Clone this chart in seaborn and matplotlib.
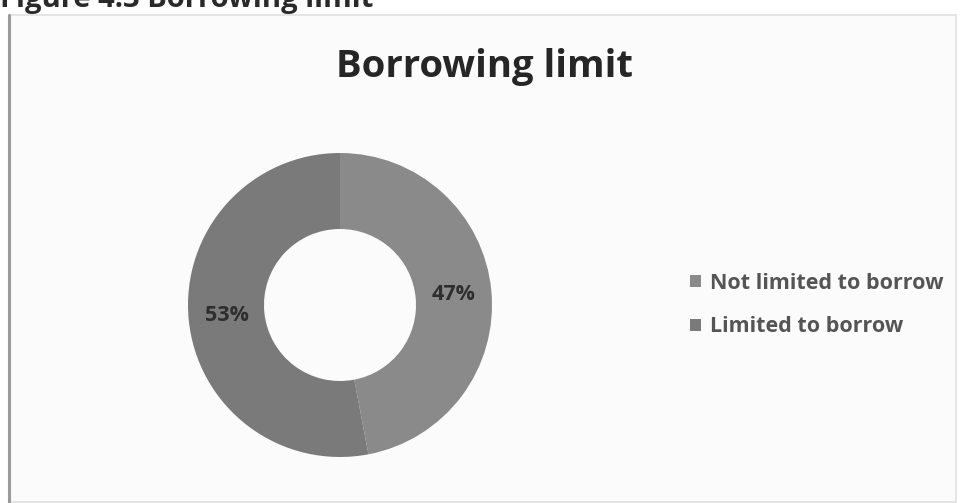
import matplotlib
matplotlib.use("Agg")
import matplotlib.pyplot as plt
from matplotlib.patches import Rectangle
import seaborn as sns

# Survey shares for the borrowing-limit question
categories = ["Not limited to borrow", "Limited to borrow"]
shares = [47, 53]
slice_colors = ["#8a8a8a", "#7a7a7a"]

sns.set_theme(style="white")
plt.rcParams["font.family"] = ["Open Sans", "DejaVu Sans"]

W, H = 961, 503
fig = plt.figure(figsize=(W / 100, H / 100), dpi=100)
fig.patch.set_facecolor("#ffffff")

# Chart frame, kept behind everything else
frame = Rectangle((9 / W, 1 / H), (956 - 9) / W, (488 - 1) / H,
                  transform=fig.transFigure, facecolor="#fbfbfb",
                  edgecolor="#e0e0e0", linewidth=1.2, zorder=-10)
fig.patches.append(frame)
fig.add_artist(plt.Line2D([9 / W, 9 / W], [1 / H, 488 / H],
                          transform=fig.transFigure, color="#9a9a9a", lw=2.2,
                          zorder=-5))

# Caption above the frame (runs off the top edge)
fig.text(0.0, 1 - 7 / H, "Figure 4.3 Borrowing limit", ha="left", va="baseline",
         fontsize=21, fontweight="bold", color="#2a2a2a")

# Title
fig.text(484 / W, 1 - 67 / H, "Borrowing limit", ha="center", va="center",
         fontsize=27.5, fontweight="bold", color="#262626")

# Donut
cx, cy, r = 340, 305, 152
ax = fig.add_axes([(cx - r) / W, (H - cy - r) / H, 2 * r / W, 2 * r / H])
ax.set_zorder(5)
wedges, texts, autotexts = ax.pie(
    shares, colors=slice_colors, startangle=90, counterclock=False,
    radius=1.0, wedgeprops=dict(width=0.5, edgecolor="none"),
    autopct=lambda p: f"{p:.0f}%", pctdistance=0.75,
)
for t in autotexts:
    t.set_fontsize(15.5)
    t.set_fontweight("bold")
    t.set_color("#2e2e2e")
ax.set_xlim(-1, 1)
ax.set_ylim(-1, 1)
ax.set_aspect("equal")
ax.axis("off")

# Legend
leg = fig.legend(wedges, categories, loc="center left",
                 bbox_to_anchor=(671 / W, 1 - 305 / H), frameon=False,
                 fontsize=15.5, handlelength=0.5, handleheight=0.5,
                 handletextpad=0.42, labelspacing=1.05)
for txt in leg.get_texts():
    txt.set_color("#555555")
    txt.set_fontweight("bold")

fig.savefig("out.png", dpi=100)
